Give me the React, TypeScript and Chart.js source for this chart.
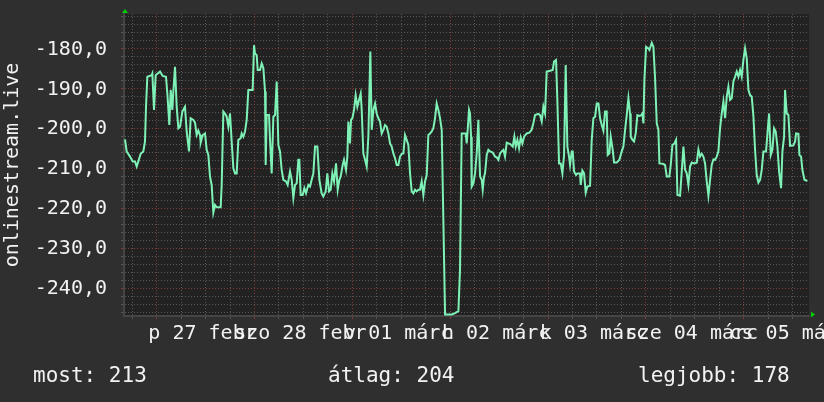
import { useEffect, useRef } from 'react';
import { Chart, registerables } from 'chart.js';

Chart.register(...registerables);

// ---- data (hours relative to 27 febr 00:00, values as plotted) ----
const HOURS = [
  -7.75, -7.35, -6.53, -5.87, -5.3, -4.89, -4.48, -3.91, -3.26, -2.85,
  -2.6, -2.28, -1.21, -1.05, -0.64, -0.23, 0.83, 1.48, 2.3, 2.63,
  3.12, 3.45, 3.86, 4.1, 4.51, 4.92, 5.33, 5.74, 6.31, 6.96,
  7.37, 7.94, 8.35, 9.01, 9.42, 9.82, 10.23, 10.64, 10.81, 11.3,
  11.87, 12.28, 12.69, 13.09, 13.5, 13.91, 14.32, 14.73, 15.71, 15.96,
  16.37, 16.77, 17.18, 17.59, 18.0, 18.41, 18.82, 19.23, 19.64, 20.04,
  20.62, 20.86, 21.27, 21.68, 22.09, 22.5, 22.91, 23.56, 23.89, 24.13,
  24.54, 24.79, 25.36, 25.77, 26.18, 26.59, 26.75, 26.99, 27.57, 27.81,
  28.22, 28.63, 29.04, 29.45, 29.86, 30.26, 30.67, 31.08, 31.74, 32.14,
  32.72, 33.13, 33.53, 33.94, 34.35, 34.76, 35.01, 35.33, 35.82, 36.23,
  36.64, 37.21, 37.62, 38.03, 38.44, 38.85, 39.42, 39.91, 40.48, 40.89,
  41.47, 41.87, 42.28, 42.69, 43.1, 43.51, 44.0, 44.41, 44.82, 45.14,
  45.63, 45.96, 46.45, 46.78, 47.02, 47.43, 47.68, 48.01, 48.42, 48.82,
  49.23, 49.64, 50.05, 50.3, 50.7, 51.11, 51.52, 51.93, 52.42, 52.75,
  53.16, 53.57, 53.97, 54.38, 54.79, 55.2, 55.61, 56.02, 56.43, 56.84,
  57.25, 57.65, 58.06, 58.47, 58.88, 59.29, 59.7, 60.11, 60.52, 60.92,
  61.33, 61.74, 62.15, 62.56, 62.97, 63.38, 63.79, 64.19, 64.6, 65.01,
  65.42, 65.83, 66.24, 66.65, 67.06, 67.47, 67.87, 68.28, 68.69, 69.1,
  69.51, 69.92, 70.33, 70.74, 71.55, 72.37, 73.19, 74.01, 74.41, 74.82,
  75.23, 75.8, 76.05, 76.29, 76.62,
  76.87, 77.12, 77.28, 77.69, 78.1, 78.51, 78.91, 79.32, 79.73, 79.98,
  80.3, 80.55, 80.96, 81.37, 81.78, 82.43, 83.0, 83.41, 83.82, 84.23,
  84.64, 85.05, 85.45, 85.86, 86.27, 86.68, 87.34, 87.74, 88.07, 88.48,
  88.89, 89.3, 89.71, 90.12, 90.77, 91.42, 91.98, 92.38, 92.81, 93.63,
  94.04, 94.45, 94.86, 95.27, 95.67, 96.49, 97.15, 97.47, 97.96, 98.29,
  98.7, 99.11, 99.52, 99.93, 100.33, 100.74, 101.15, 101.4, 101.81, 102.05,
  102.38, 102.87, 103.2, 103.85, 104.01, 104.42, 104.83, 105.24, 105.65, 106.3,
  106.71, 107.12, 107.53, 107.94, 108.35, 108.76, 109.17, 109.57, 109.98, 110.39,
  110.64, 111.05, 111.37, 111.86, 112.19, 112.84, 113.5, 114.07, 114.48, 114.89,
  115.3, 115.71, 116.11, 116.28, 116.69, 117.1, 117.5, 117.91, 118.4, 118.89,
  119.14, 119.39, 119.63, 120.04, 120.61, 120.86, 121.43, 121.84, 122.25, 122.66,
  123.06, 123.31, 124.13, 124.7, 125.11, 125.76, 126.09, 126.5, 126.99, 127.4,
  127.73, 128.38, 128.79, 129.2, 129.6, 130.01, 130.42, 130.83, 131.24, 131.81,
  132.47, 132.88, 133.28, 133.69, 134.1, 134.51, 134.92, 135.33, 135.74, 136.14,
  136.55, 136.96, 137.37, 137.78, 138.19, 138.6, 139.01, 139.42, 139.83, 140.23,
  140.64, 141.05, 141.46, 141.87, 142.28, 142.69, 143.1, 143.5, 143.91, 144.32,
  144.73, 145.14, 145.55, 145.96, 146.37, 146.77, 147.18, 147.59, 148.0, 148.41,
  148.82, 149.47, 149.88, 150.21, 150.62, 151.03, 151.43, 151.84, 152.25, 152.66,
  153.15, 153.48, 153.89, 154.13, 154.54, 154.95, 155.36, 156.18, 156.59, 156.83,
  157.4, 157.65, 158.06, 158.38, 158.88, 159.61,
];

const VALUES = [
  -202.8, -205.8, -207.1, -208.3, -208.3, -209.6, -208.3, -206.4, -205.8, -203.3,
  -194.6, -187.1, -186.7, -186.3, -195.4, -186.7, -185.8, -186.9, -187.1, -191.3,
  -199.2, -190.4, -195.4, -190.8, -184.6, -194.6, -200.0, -199.6, -195.8, -194.6,
  -200.8, -205.8, -197.5, -197.9, -198.6, -201.7, -200.6, -201.7, -203.6, -201.7,
  -201.3, -205.4, -206.7, -212.1, -214.2, -221.1, -219.2, -219.8, -219.8, -214.2,
  -195.8, -196.3, -197.1, -199.6, -196.3, -203.3, -210.0, -211.3, -211.3, -202.9,
  -202.5, -201.3, -202.1, -200.8, -197.9, -190.4, -190.4, -190.4, -179.2, -181.3,
  -181.7, -185.4, -185.4, -183.8, -185.0, -190.8, -209.2, -196.7, -196.7, -202.9,
  -211.3, -197.1, -196.7, -188.3, -204.2, -205.8, -210.4, -212.9, -213.3, -214.2,
  -210.8, -212.9, -217.5, -214.2, -213.8, -207.9, -207.9, -216.7, -216.7, -215.0,
  -216.3, -214.2, -214.6, -212.9, -211.3, -204.6, -204.6, -212.9, -216.3, -217.1,
  -215.8, -211.3, -215.8, -215.4, -211.3, -213.3, -208.8, -215.4, -212.9, -212.1,
  -209.2, -207.9, -210.4, -207.1, -198.3, -203.8, -197.9, -197.5, -195.4, -191.7,
  -194.6, -192.9, -191.3, -195.4, -206.3, -207.9, -209.6, -202.1, -180.8, -200.4,
  -195.4, -193.8, -196.3, -197.5, -198.3, -201.3, -200.4, -199.2, -199.6, -201.3,
  -203.8, -204.6, -206.3, -207.5, -209.2, -209.2, -207.1, -206.4, -206.3, -201.7,
  -202.9, -204.2, -211.3, -215.8, -216.3, -215.4, -215.8, -215.4, -215.4, -213.3,
  -216.7, -213.3, -211.7, -201.7, -201.3, -200.8, -200.0, -197.5, -193.8, -195.4,
  -197.5, -200.4, -223.3, -246.6, -246.6, -246.6, -246.3, -245.8, -235.4, -201.3,
  -201.3, -201.3, -203.8, -200.4, -195.4,
  -196.3, -202.1, -214.6, -213.8, -211.3, -206.3, -197.9, -212.1, -212.9, -215.4,
  -212.1, -211.3, -206.7, -205.4, -205.8, -206.1, -207.1, -207.3, -207.9, -206.3,
  -205.8, -205.4, -207.1, -203.6, -203.8, -203.9, -204.6, -202.1, -204.6, -202.9,
  -205.0, -202.3, -203.8, -202.1, -201.3, -201.1, -200.4, -198.8, -196.7, -196.4,
  -196.7, -198.3, -194.6, -196.3, -185.8, -185.6, -185.4, -183.3, -182.9, -193.3,
  -208.8, -208.8, -211.3, -206.7, -184.2, -204.6, -207.1, -209.2, -205.8, -205.8,
  -210.8, -211.7, -211.3, -211.3, -214.2, -210.6, -211.3, -216.1, -214.6, -214.4,
  -202.9, -197.5, -197.1, -193.8, -193.8, -197.5, -199.2, -200.6, -195.8, -195.8,
  -206.7, -206.3, -202.1, -205.4, -208.6, -208.6, -207.9, -205.8, -204.6, -200.4,
  -196.7, -192.5, -196.3, -202.1, -202.9, -203.3, -201.3, -196.7, -196.9, -196.7,
  -196.3, -198.8, -187.9, -179.6, -180.0, -180.4, -178.6, -179.6, -187.5, -198.8,
  -200.4, -208.8, -208.9, -209.2, -212.1, -212.1, -209.2, -204.2, -203.8, -202.9,
  -216.7, -216.9, -210.8, -204.6, -210.4, -211.3, -214.2, -209.6, -208.6, -208.8,
  -208.6, -205.3, -207.1, -206.4, -207.1, -208.8, -213.3, -216.9, -212.9, -209.2,
  -207.8, -207.9, -207.1, -205.8, -200.0, -196.3, -193.3, -197.5, -192.1, -189.6,
  -192.9, -192.5, -188.3, -187.1, -185.8, -187.1, -185.4, -187.1, -182.9, -180.0,
  -182.5, -190.4, -191.7, -192.1, -197.1, -205.4, -211.7, -213.6, -212.9, -210.4,
  -205.8, -205.8, -200.4, -196.3, -206.7, -205.4, -200.0, -200.8, -204.6, -210.8,
  -215.0, -205.8, -202.1, -190.4, -196.3, -196.7, -204.4, -204.3, -203.3, -201.3,
  -201.4, -206.7, -207.1, -210.4, -212.9, -213.2,
];

// axis ranges and grid
const X_MIN = -8;
const X_MAX = 160;
const X_GRID = [-6, 0, 6, 12, 18, 24, 30, 36, 42, 48, 54, 60, 66, 72, 78, 84, 90, 96, 102, 108, 114, 120, 126, 132, 138, 144, 150, 156];
const DAY_STARTS = [0, 24, 48, 72, 96, 120, 144];
const DAY_NOONS = [12, 36, 60, 84, 108, 132, 156];
const DAY_LABELS = ['p 27 febr', 'szo 28 febr', 'v 01 márc', 'h 02 márc', 'k 03 márc', 'sze 04 márc', 'cs 05 márc'];

const Y_MIN = -247;
const Y_MAX = -171.4;
const Y_GRID = [-246, -244, -242, -240, -238, -236, -234, -232, -230, -228, -226, -224, -222, -220, -218, -216, -214, -212, -210, -208, -206, -204, -202, -200, -198, -196, -194, -192, -190, -188, -186, -184, -182, -180, -178, -176, -174, -172];
const Y_LABELED = [-240, -230, -220, -210, -200, -190, -180];

const Y_TITLE = 'onlinestream.live';
const LEGEND_TEXTS = ['most: 213', 'átlag: 204', 'legjobb: 178'];

// styles
const BG = '#2f2f2f';
const PLOT_BG = '#222222';
const TEXT = '#f2f2f2';
const LINE = '#7ef2b6';
const GRID_MINOR = '#585858';
const GRID_MAJOR = '#7e3c3c';
const AXIS = '#454545';
const ARROW = '#00d000';
const FONT = "'DejaVu Sans Mono', monospace";

const near = (a: number, list: number[]) => list.some((v) => Math.abs(v - a) < 1e-6);

const decorPlugin = {
  id: 'rrdDecor',
  beforeDraw(chart: any) {
    const { ctx, chartArea: a, width, height } = chart;
    ctx.save();
    ctx.fillStyle = BG;
    ctx.fillRect(0, 0, width, height);
    ctx.fillStyle = PLOT_BG;
    ctx.fillRect(a.left, a.top, a.right - a.left, a.bottom - a.top);
    ctx.restore();
  },
  afterDraw(chart: any) {
    const { ctx, chartArea: a } = chart;
    ctx.save();
    // arrows at axis ends
    ctx.fillStyle = ARROW;
    ctx.beginPath();
    ctx.moveTo(a.left + 1, a.top - 5);
    ctx.lineTo(a.left - 2, a.top - 1);
    ctx.lineTo(a.left + 4, a.top - 1);
    ctx.closePath();
    ctx.fill();
    ctx.beginPath();
    ctx.moveTo(a.right + 6, a.bottom - 1.5);
    ctx.lineTo(a.right + 2, a.bottom - 4.5);
    ctx.lineTo(a.right + 2, a.bottom + 1.5);
    ctx.closePath();
    ctx.fill();
    // legend line
    ctx.fillStyle = TEXT;
    ctx.font = `21px ${FONT}`;
    ctx.textBaseline = 'alphabetic';
    ctx.textAlign = 'left';
    const xs = [33, 328, 638];
    LEGEND_TEXTS.forEach((t, i) => ctx.fillText(t, xs[i], 382));
    ctx.restore();
  },
};

export default function App() {
  const ref = useRef<HTMLCanvasElement>(null);
  useEffect(() => {
    document.body.style.margin = '0';
    document.body.style.background = BG;
    const canvas = ref.current!;
    const chart = new Chart(canvas, {
      type: 'line',
      data: {
        datasets: [
          {
            data: HOURS.map((h, i) => ({ x: h, y: VALUES[i] })),
            borderColor: LINE,
            borderWidth: 2,
            pointRadius: 0,
            tension: 0,
            fill: false,
          },
        ],
      },
      options: {
        animation: false,
        responsive: false,
        devicePixelRatio: 1,
        events: [],
        layout: { padding: { top: 14, right: 15, left: 0, bottom: 0 } },
        plugins: { legend: { display: false }, tooltip: { enabled: false }, title: { display: false } },
        scales: {
          x: {
            type: 'linear',
            min: X_MIN,
            max: X_MAX,
            afterBuildTicks: (s: any) => {
              s.ticks = X_GRID.map((v) => ({ value: v }));
            },
            afterFit: (s: any) => {
              s.height = 86;
              s.paddingLeft = 0;
              s.paddingRight = 0;
            },
            ticks: {
              autoSkip: false,
              maxRotation: 0,
              minRotation: 0,
              padding: 3,
              labelOffset: -3,
              color: TEXT,
              font: { family: FONT, size: 20 },
              callback: (v: any) => {
                const i = DAY_NOONS.findIndex((d) => Math.abs(d - v) < 1e-6);
                return i >= 0 ? DAY_LABELS[i] : '';
              },
            },
            grid: {
              color: (c: any) => (near(c.tick?.value, DAY_STARTS) ? GRID_MAJOR : GRID_MINOR),
              tickColor: (c: any) => (near(c.tick?.value, DAY_STARTS) ? GRID_MAJOR : GRID_MINOR),
              lineWidth: 1,
              tickLength: 3,
            },
            border: { display: true, color: AXIS, width: 2, dash: [1, 2] },
          },
          y: {
            type: 'linear',
            min: Y_MIN,
            max: Y_MAX,
            afterBuildTicks: (s: any) => {
              s.ticks = Y_GRID.map((v) => ({ value: v }));
            },
            afterFit: (s: any) => {
              s.width = 124;
              s.paddingTop = 0;
              s.paddingBottom = 0;
            },
            ticks: {
              autoSkip: false,
              padding: 14,
              labelOffset: 1,
              color: TEXT,
              font: { family: FONT, size: 20 },
              callback: (v: any) => (near(v, Y_LABELED) ? Number(v).toFixed(1).replace('.', ',') : ''),
            },
            grid: {
              color: (c: any) => (near(c.tick?.value, Y_LABELED) ? GRID_MAJOR : GRID_MINOR),
              tickColor: (c: any) => (near(c.tick?.value, Y_LABELED) ? GRID_MAJOR : GRID_MINOR),
              lineWidth: 1,
              tickLength: 3,
            },
            border: { display: true, color: AXIS, width: 2, dash: [1, 2] },
            title: {
              display: true,
              text: Y_TITLE,
              color: TEXT,
              font: { family: FONT, size: 20 },
              padding: { top: 1, bottom: 0 },
            },
          },
        },
      },
      plugins: [decorPlugin],
    } as any);
    return () => chart.destroy();
  }, []);
  return (
    <div style={{ width: 824, height: 402, background: BG }}>
      <canvas ref={ref} width={824} height={402} style={{ display: 'block' }} />
    </div>
  );
}
